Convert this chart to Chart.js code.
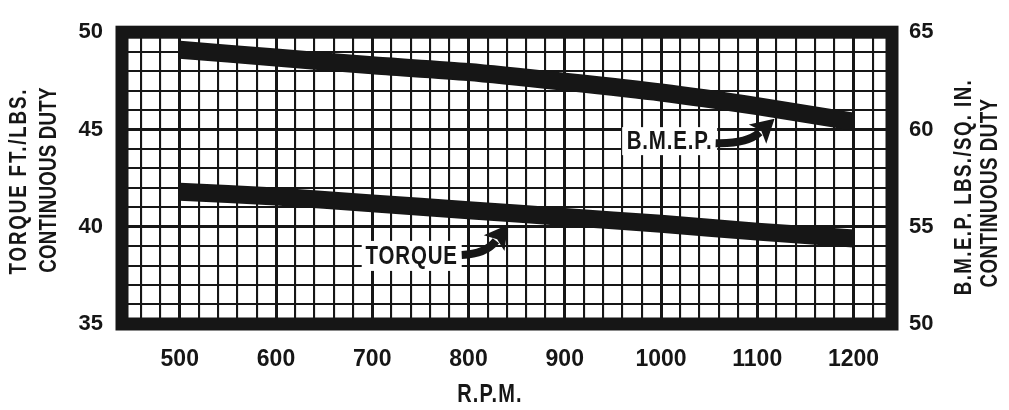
<!DOCTYPE html>
<html>
<head>
<meta charset="utf-8">
<script src="https://cdn.jsdelivr.net/npm/chart.js@4.4.1/dist/chart.umd.min.js"></script>
<style>
  html, body { margin: 0; padding: 0; background: #fff; }
  #wrap { width: 1009px; height: 410px; position: relative; }
</style>
</head>
<body>
<div id="wrap"><canvas id="rpmChart"></canvas></div>
<script>
// values
var rpm = [500, 600, 700, 800, 900, 1000, 1100, 1200];
var torque = [41.8, 41.55, 41.2, 40.85, 40.5, 40.15, 39.75, 39.4];
var bmep = [64.1, 63.7, 63.3, 62.95, 62.45, 61.9, 61.2, 60.4];
var rpmTicks = [500, 600, 700, 800, 900, 1000, 1100, 1200];
var torqueTicks = [35, 40, 45, 50];
var bmepTicks = [50, 55, 60, 65];

var FONT = "'Liberation Sans', Arial, sans-serif";
var INK = "#161616";

function toPoints(ys) {
  return rpm.map(function (r, i) { return { x: r, y: ys[i] }; });
}

// thick frame round the plot
var framePlugin = {
  id: "frame",
  afterDatasetsDraw: function (chart) {
    var a = chart.chartArea, ctx = chart.ctx;
    ctx.save();
    ctx.strokeStyle = INK;
    ctx.lineWidth = 13;
    ctx.strokeRect(a.left, a.top, a.right - a.left, a.bottom - a.top);
    ctx.restore();
  }
};

// narrow bold text, squeezed sideways like the print
function narrowText(ctx, text, x, y, size, ang, spacing, squeeze) {
  ctx.save();
  ctx.translate(x, y);
  ctx.rotate(ang || 0);
  ctx.scale(squeeze || 0.82, 1);
  ctx.font = "bold " + size + "px " + FONT;
  ctx.letterSpacing = (spacing || 0) + "px";
  ctx.textAlign = "center";
  ctx.textBaseline = "middle";
  ctx.fillStyle = INK;
  ctx.fillText(text, 0, 0);
  ctx.restore();
}

function drawTag(ctx, text, cx, cy, w, h, size) {
  ctx.fillStyle = "#fff";
  ctx.fillRect(cx - w / 2, cy - h / 2, w, h);
  narrowText(ctx, text, cx, cy + 1, size, 0, 1);
}

function drawArrow(ctx, x0, y0, cx, cy, x1, y1) {
  var dx = x1 - cx, dy = y1 - cy, len = Math.hypot(dx, dy);
  var ux = dx / len, uy = dy / len;
  var hl = 23, hw = 13;
  var bx = x1 - ux * hl, by = y1 - uy * hl;
  ctx.strokeStyle = INK;
  ctx.lineWidth = 8;
  ctx.beginPath();
  ctx.moveTo(x0, y0);
  ctx.quadraticCurveTo(cx, cy, bx + ux * 3, by + uy * 3);
  ctx.stroke();
  ctx.fillStyle = INK;
  ctx.beginPath();
  ctx.moveTo(x1, y1);
  ctx.lineTo(bx - uy * hw, by + ux * hw);
  ctx.lineTo(bx + ux * 5, by + uy * 5);
  ctx.lineTo(bx + uy * hw, by - ux * hw);
  ctx.closePath();
  ctx.fill();
}

// tags, arrows and axis titles
var notesPlugin = {
  id: "notes",
  afterDraw: function (chart) {
    var ctx = chart.ctx, sx = chart.scales.x, sy = chart.scales.y, sy1 = chart.scales.y1;
    ctx.save();

    // B.M.E.P. tag
    var bx = sx.getPixelForValue(1009), by = sy1.getPixelForValue(59.4);
    drawTag(ctx, "B.M.E.P.", bx, by, 95, 28, 25);
    var tx = sx.getPixelForValue(1118), ty = sy1.getPixelForValue(60.55);
    drawArrow(ctx, bx + 46, by + 2, tx - 28, by + 3, tx, ty);

    // TORQUE tag
    var qx = sx.getPixelForValue(741), qy = sy.getPixelForValue(38.5);
    drawTag(ctx, "TORQUE", qx, qy, 100, 30, 25);
    var px = sx.getPixelForValue(841), py = sy.getPixelForValue(40.1);
    drawArrow(ctx, qx + 50, qy - 1, px - 22, qy - 2, px, py);

    // axis titles
    var up = -Math.PI / 2;
    narrowText(ctx, "TORQUE FT./LBS.", 19, 181, 24, up, 2.4, 0.78);
    narrowText(ctx, "CONTINUOUS DUTY", 49, 180, 24, up, 0.3, 0.78);
    narrowText(ctx, "B.M.E.P. LBS./SQ. IN.", 964, 187, 24, up, 1.8, 0.78);
    narrowText(ctx, "CONTINUOUS DUTY", 990, 193, 24, up, 0.6, 0.78);
    narrowText(ctx, "R.P.M.", 490, 395, 25, 0, 1.5, 0.8);
    ctx.restore();
  }
};

var yFont = { family: FONT, size: 22, weight: "bold" };

new Chart(document.getElementById("rpmChart"), {
  type: "line",
  data: {
    datasets: [
      {
        label: "TORQUE",
        data: toPoints(torque),
        yAxisID: "y",
        borderColor: INK,
        borderWidth: 18,
        pointRadius: 0,
        tension: 0.25
      },
      {
        label: "B.M.E.P.",
        data: toPoints(bmep),
        yAxisID: "y1",
        borderColor: INK,
        borderWidth: 18,
        pointRadius: 0,
        tension: 0.25
      }
    ]
  },
  options: {
    responsive: true,
    maintainAspectRatio: false,
    animation: false,
    layout: { padding: { top: 28, bottom: 0, left: 0, right: 0 } },
    plugins: { legend: { display: false }, tooltip: { enabled: false } },
    scales: {
      x: {
        type: "linear",
        min: 440,
        max: 1240,
        afterFit: function (s) { s.height = 86; },
        ticks: {
          stepSize: 20,
          maxTicksLimit: 100,
          autoSkip: false,
          maxRotation: 0,
          padding: 22,
          color: INK,
          font: { family: FONT, size: 23, weight: "bold" },
          callback: function (v) { return rpmTicks.indexOf(Math.round(v)) >= 0 ? String(Math.round(v)) : ""; }
        },
        grid: {
          color: INK,
          drawTicks: false,
          lineWidth: function (c) { return c.tick && Math.round(c.tick.value) % 100 === 0 ? 3 : 2.1; }
        },
        border: { display: false }
      },
      y: {
        position: "left",
        min: 35,
        max: 50,
        afterFit: function (s) { s.width = 122; },
        ticks: {
          stepSize: 1,
          autoSkip: false,
          padding: 19,
          color: INK,
          font: yFont,
          callback: function (v) { return torqueTicks.indexOf(Math.round(v)) >= 0 ? String(Math.round(v)) : ""; }
        },
        grid: {
          color: INK,
          drawTicks: false,
          lineWidth: function (c) { return c.tick && Math.round(c.tick.value) % 5 === 0 ? 3 : 2.1; }
        },
        border: { display: false }
      },
      y1: {
        position: "right",
        min: 50,
        max: 65,
        afterFit: function (s) { s.width = 117; },
        ticks: {
          stepSize: 5,
          padding: 17,
          color: INK,
          font: yFont,
          callback: function (v) { return bmepTicks.indexOf(Math.round(v)) >= 0 ? String(Math.round(v)) : ""; }
        },
        grid: { drawOnChartArea: false, drawTicks: false },
        border: { display: false }
      }
    }
  },
  plugins: [framePlugin, notesPlugin]
});
</script>
</body>
</html>
